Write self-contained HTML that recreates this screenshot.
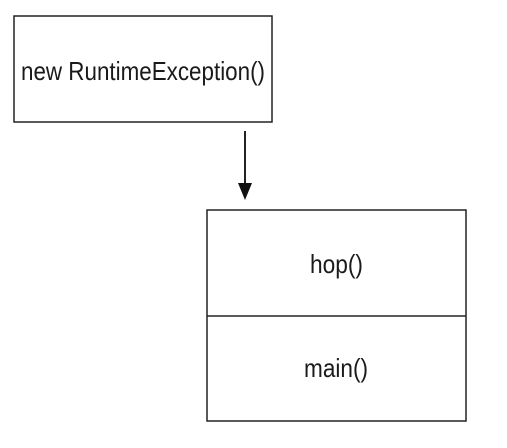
<!DOCTYPE html>
<html><head><style>html,body{margin:0;padding:0;background:#fff;}svg{display:block}</style></head>
<body>
<svg width="507" height="448" viewBox="0 0 507 448" xmlns="http://www.w3.org/2000/svg">
<g fill="none" stroke="#222" stroke-width="1.5">
<rect x="14" y="16" width="258" height="106"/>
<rect x="207" y="210" width="259" height="211"/>
<line x1="207" y1="316" x2="466" y2="316"/>
<line x1="245" y1="131" x2="245" y2="186" stroke-width="2"/>
</g>
<polygon points="238,183 252,183 245,200" fill="#111"/>
<g font-family="'Liberation Sans Narrow','Liberation Sans',sans-serif" font-size="26" fill="#1a1a1a">
<text x="21" y="80" textLength="244" lengthAdjust="spacingAndGlyphs">new RuntimeException()</text>
<text x="310" y="273" textLength="53" lengthAdjust="spacingAndGlyphs">hop()</text>
<text x="304" y="377" textLength="64" lengthAdjust="spacingAndGlyphs">main()</text>
</g>
</svg>
</body></html>
